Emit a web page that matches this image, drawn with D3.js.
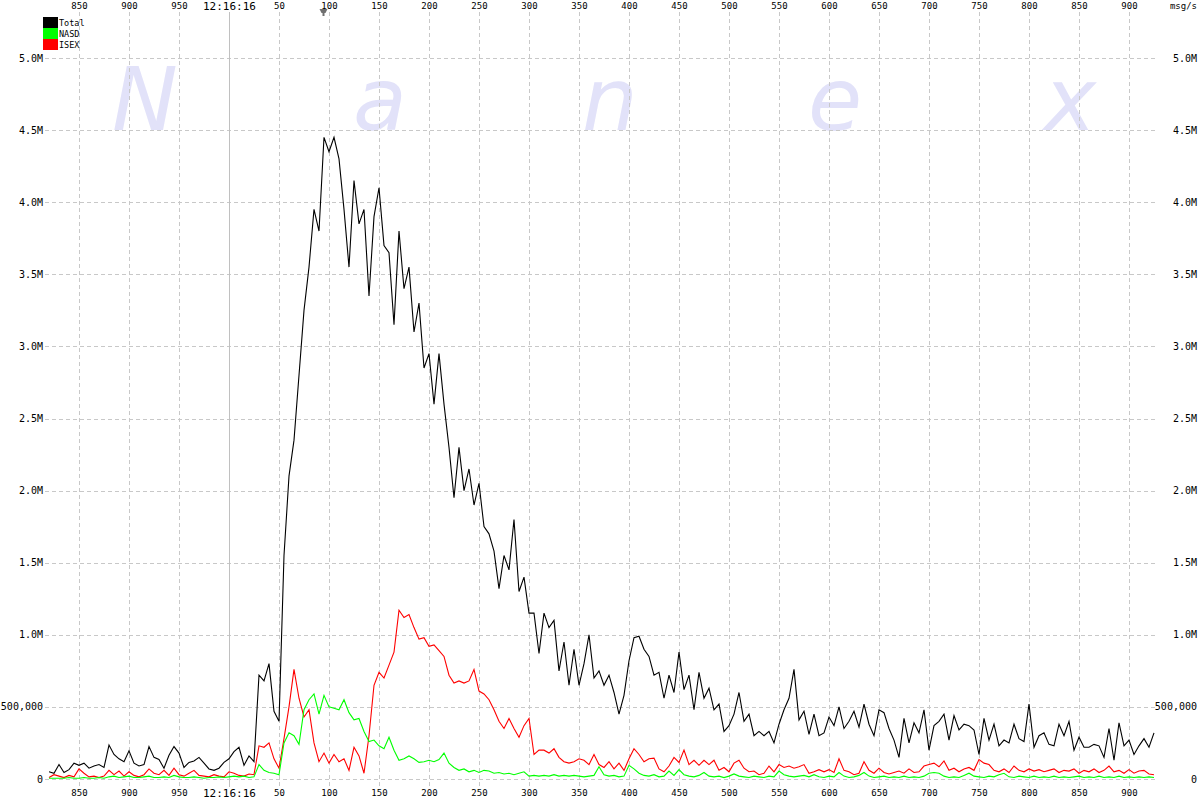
<!DOCTYPE html>
<html><head><meta charset="utf-8">
<script src="https://cdn.jsdelivr.net/npm/d3@7"></script>
<style>
html,body{margin:0;padding:0;background:#fff;}
svg{display:block;}
text{font-family:"DejaVu Sans Mono","Liberation Mono",monospace;}
</style>
</head><body>
<svg id="chart" width="1200" height="800"></svg>
<script>
// Time axis: milliseconds relative to 12:16:16 (sampling grid)
const T0 = -180, STEP = 5;
// Values in thousands of messages per second
const total = [
 50,40,100,45,65,110,95,110,75,90,
 100,80,235,170,140,120,195,110,90,100,
 225,150,135,75,165,225,180,80,115,125,
 150,110,70,60,75,115,140,190,220,95,
 160,120,720,680,800,470,400,1550,2100,2350,
 2800,3250,3550,3950,3800,4450,4350,4450,4300,3950,
 3550,4150,3850,3950,3350,3900,4100,3700,3650,3150,
 3800,3400,3550,3100,3300,2850,2950,2600,2950,2600,
 2300,1950,2300,2000,2150,1900,2050,1750,1700,1580,
 1320,1550,1450,1800,1300,1400,1150,1150,870,1150,
 1050,1100,750,950,650,900,650,800,1000,700,
 750,650,720,600,450,580,820,980,990,900,
 850,720,740,560,720,600,880,620,720,480,
 740,560,630,480,520,330,370,450,600,400,
 450,300,330,300,330,250,380,480,560,760,
 410,470,310,450,300,320,430,370,500,350,
 400,470,360,520,380,300,480,460,350,270,
 150,420,250,390,320,480,200,370,400,450,
 270,440,340,380,370,340,170,420,270,380,
 230,270,250,380,280,260,520,220,300,320,
 240,230,380,300,400,200,290,220,220,240,
 230,150,350,130,390,230,270,170,230,280,
 220,320
];
const nasd = [
 5,5,5,5,10,5,5,10,5,5,
 10,5,15,20,10,15,20,10,10,15,
 20,10,10,15,10,25,15,10,10,15,
 10,5,10,10,15,10,15,20,15,20,
 10,15,100,60,45,40,30,250,320,300,
 240,480,550,590,450,580,500,490,480,550,
 460,410,420,330,260,270,230,210,290,200,
 130,140,160,140,115,120,130,120,135,180,
 110,80,60,70,50,60,45,60,55,40,
 45,35,40,30,40,50,20,25,20,25,
 20,30,20,25,20,25,20,15,20,25,
 85,30,20,25,15,20,95,70,40,25,
 20,30,15,20,55,25,65,30,20,15,
 25,45,20,15,20,10,20,35,20,15,
 10,20,15,10,20,15,55,30,20,15,
 20,25,15,30,15,10,20,15,45,20,
 10,15,25,45,20,10,15,20,10,15,
 10,20,10,15,10,20,40,45,40,20,
 10,15,10,25,40,20,15,10,20,15,
 30,40,15,10,20,15,10,20,10,15,
 10,20,10,15,10,15,20,10,15,10,
 20,10,15,10,20,10,15,10,15,10,
 15,10
];
const isex = [
 10,30,20,10,25,15,70,40,15,20,
 10,20,60,30,55,20,50,25,15,30,
 70,40,30,60,25,75,30,20,40,60,
 25,20,15,30,20,15,50,40,25,20,
 35,30,230,220,250,140,75,280,500,760,
 560,430,480,250,120,180,110,170,120,140,
 60,220,160,40,300,650,740,700,790,880,
 1170,1120,1140,1050,970,980,920,930,890,850,
 720,665,680,665,680,760,610,590,550,480,
 400,350,420,350,290,370,420,170,200,200,
 180,210,150,120,110,120,140,130,100,170,
 100,80,120,70,110,60,140,210,170,120,
 140,145,70,50,90,150,115,200,100,130,
 95,130,100,130,60,80,50,110,130,75,
 50,55,30,40,90,50,100,80,90,75,
 85,100,40,50,65,50,65,45,140,60,
 50,30,40,120,60,40,75,45,35,45,
 55,40,70,45,50,90,100,110,85,125,
 60,75,50,70,80,60,135,110,100,60,
 50,70,45,90,60,50,70,55,65,50,
 60,70,45,60,55,70,40,60,50,70,
 45,60,90,50,60,40,65,40,55,60,
 35,30
];
const seriesNames = ["Total","NASD","ISEX"];
const seriesColors = ["#000000","#00ff00","#ff0000"];
const yTicks = [0,500,1000,1500,2000,2500,3000,3500,4000,4500,5000];
const yTickLabels = ["0","500,000","1.0M","1.5M","2.0M","2.5M","3.0M","3.5M","4.0M","4.5M","5.0M"];
const xTicks = [-150,-100,-50,0,50,100,150,200,250,300,350,400,450,500,550,600,650,700,750,800,850,900];
const xTickLabels = ["850","900","950","12:16:16","50","100","150","200","250","300","350","400","450","500","550","600","650","700","750","800","850","900"];
const watermark = ["N","a","n","e","x"];
const markerTime = 94;
const unitLabel = "msg/s";

const svg = d3.select("#chart");
const x = d3.scaleLinear().domain([-184, 926]).range([45, 1155]);
const y = d3.scaleLinear().domain([0, 5000]).range([779, 58]);

svg.append("rect").attr("width",1200).attr("height",800).attr("fill","#fff");

// watermark
const wmX = [145, 380, 610, 835, 1070];
svg.append("g").selectAll("text").data(watermark).join("text")
  .attr("x",(d,i)=>wmX[i]).attr("y",130)
  .attr("text-anchor","middle")
  .style("font-family","'DejaVu Sans','Verdana',sans-serif")
  .style("font-style","italic")
  .style("font-size","88px")
  .attr("fill","#e2e2f9")
  .text(d=>d);

// grid
const grid = svg.append("g");
grid.selectAll("line.h").data(yTicks.filter(d=>d>0)).join("line")
  .attr("x1",45).attr("x2",1155)
  .attr("y1",d=>Math.round(y(d))+0.5).attr("y2",d=>Math.round(y(d))+0.5)
  .attr("stroke","#c8c8c8").attr("stroke-dasharray","4,3");
grid.append("line").attr("x1",45).attr("x2",1155)
  .attr("y1",Math.round(y(0))+0.5).attr("y2",Math.round(y(0))+0.5)
  .attr("stroke","#c8c8c8").attr("stroke-dasharray","4,3");
grid.selectAll("line.v").data(xTicks).join("line")
  .attr("x1",d=>Math.round(x(d))+0.5).attr("x2",d=>Math.round(x(d))+0.5)
  .attr("y1",12).attr("y2",787)
  .attr("stroke",d=>d===0?"#c0c0c0":"#c8c8c8")
  .attr("stroke-width",1)
  .attr("stroke-dasharray",d=>d===0?null:"4,3");

// axis labels
const lab = svg.append("g").attr("fill","#000");
xTicks.forEach((t,i)=>{
  const big = t===0;
  [9,796].forEach(by=>{
    lab.append("text").attr("x",x(t)+0.5).attr("y",by + (big? (by<100?0.5:1):0))
      .attr("text-anchor","middle")
      .style("font-size",big?"11px":"9px")
      .text(xTickLabels[i]);
  });
});
yTicks.forEach((t,i)=>{
  lab.append("text").attr("x",43).attr("y",y(t)+3.5).attr("text-anchor","end")
    .style("font-size","10px").text(yTickLabels[i]);
  lab.append("text").attr("x",1197).attr("y",y(t)+3.5).attr("text-anchor","end")
    .style("font-size","10px").text(yTickLabels[i]);
});
lab.append("text").attr("x",1197).attr("y",9).attr("text-anchor","end")
  .style("font-size","9px").text(unitLabel);

// marker
const mx = Math.round(x(markerTime))+0.5;
svg.append("path")
  .attr("d",`M${mx-4},9 L${mx+4},9 L${mx+2},13 L${mx+1},13 L${mx+1},16 L${mx-1},16 L${mx-1},13 L${mx-2},13 Z`)
  .attr("fill","#707070");

// series lines
const seriesData = [total, nasd, isex];
const line = d3.line().x((d,i)=>x(T0 + i*STEP)).y(d=>y(d));
[2,1,0].forEach(k=>{
  svg.append("path").datum(seriesData[k])
    .attr("d",line).attr("fill","none")
    .attr("stroke",seriesColors[k]).attr("stroke-width",1.1)
    .attr("stroke-linejoin","miter");
});

// legend
const lg = svg.append("g");
seriesNames.forEach((n,i)=>{
  lg.append("rect").attr("x",43).attr("y",17+i*11).attr("width",15).attr("height",11)
    .attr("fill",seriesColors[i]);
  lg.append("text").attr("x",59).attr("y",26+i*11)
    .style("font-size","8.5px").attr("fill","#000").text(n);
});
</script>
</body></html>
